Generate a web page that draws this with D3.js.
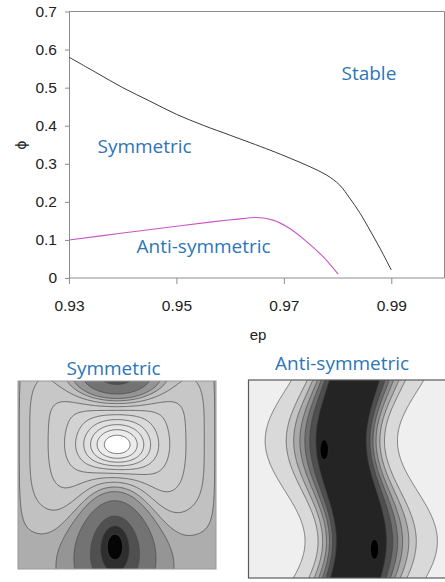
<!DOCTYPE html>
<html>
<head>
<meta charset="utf-8">
<script src="https://cdn.jsdelivr.net/npm/d3@7"></script>
<style>
  html, body { margin: 0; padding: 0; background: #fff; }
  svg { display: block; }
</style>
</head>
<body>
<svg id="fig" width="445" height="582"></svg>
<script>
// ---- stability boundaries (ep, phi) ----
const epSym   = [0.93, 0.935, 0.94, 0.945, 0.95, 0.955, 0.96, 0.9674, 0.9711, 0.9749, 0.978, 0.9804, 0.9823, 0.9842, 0.986, 0.9879, 0.99];
const phiSym  = [0.58, 0.54, 0.50, 0.465, 0.43, 0.401, 0.375, 0.336, 0.315, 0.292, 0.27, 0.244, 0.209, 0.17, 0.126, 0.078, 0.021];
const epAnti  = [0.93, 0.94, 0.95, 0.957, 0.961, 0.965, 0.968, 0.9711, 0.9743, 0.9773, 0.9801];
const phiAnti = [0.10, 0.118, 0.136, 0.148, 0.154, 0.159, 0.152, 0.13, 0.095, 0.056, 0.01];
const xTicks  = [0.93, 0.95, 0.97, 0.99];
const yTicks  = [0, 0.1, 0.2, 0.3, 0.4, 0.5, 0.6, 0.7];

// ---- symmetric mode pattern: lobes [cx, cy, sx, sy, amplitude, y-exponent] ----
const symLight = [
  [0.50, 0.30, 0.30, 0.40, 0.50, 4],
  [0.50, 0.35, 0.11, 0.085, 0.55, 2]
];
const symDark = [
  [0.49, 0.88, 0.12, 0.22, -1.21, 2],
  [0.49, 0.865, 0.04, 0.07, -0.60, 2],
  [0.50, -0.02, 0.14, 0.09, -1.30, 2]
];
const symDarkLevels = [-1.46, -1.08, -0.69, -0.26, -0.05];
const symDarkFills  = ["#2e2e2e", "#505050", "#737373", "#959595", "#adadad"];
const symLightLevels = [0.05, 0.156, 0.262, 0.368, 0.474, 0.58, 0.686, 0.792, 0.898];

// ---- anti-symmetric mode pattern: meandering band ----
const antiCentre = 0.52, antiBase = 0.021, antiGrow = 0.238, antiPhase = 0.06;
const antiSpots  = [[0.385, 0.354, 0.021, 0.05], [0.636, 0.85, 0.021, 0.05]];
const antiLevels = [-0.5, 0.125, 0.15, 0.17, 0.19, 0.215, 0.245, 0.33];
const antiFills  = ["#242424", "#4f4f4f", "#6f6f6f", "#8f8f8f", "#a9a9a9", "#c4c4c4", "#d9d9d9", "#efefef"];

const svg = d3.select("#fig");
const blue = "#2e75b6";

// ================= boundary chart =================
const x = d3.scaleLinear().domain([0.93, 1.0]).range([69, 445]);
const y = d3.scaleLinear().domain([0, 0.7]).range([278, 11.5]);

const chart = svg.append("g");

// frame (top and right)
chart.append("path")
  .attr("d", `M${x(0.93)},${y(0.7)}H444.5V${y(0)}`)
  .attr("fill", "none").attr("stroke", "#8c8c8c").attr("stroke-width", 1);

const xAxis = chart.append("g")
  .attr("transform", `translate(0,${y(0)})`)
  .call(d3.axisBottom(x).tickValues(xTicks).tickFormat(d3.format(".2f")).tickSize(6).tickSizeOuter(0).tickPadding(16));
xAxis.select(".domain").attr("d", `M${x(0.93)},0H444.5`);

chart.append("g")
  .attr("transform", `translate(${x(0.93)},0)`)
  .call(d3.axisLeft(y).tickValues(yTicks).tickFormat(d3.format("~g")).tickSize(4).tickSizeOuter(0).tickPadding(8));

chart.selectAll(".domain, .tick line").attr("stroke", "#8c8c8c");
chart.selectAll(".tick text")
  .attr("font-family", "'Liberation Sans', Arial, sans-serif")
  .attr("font-size", 15.5).attr("fill", "#222");

chart.append("text")
  .attr("x", 258).attr("y", 340).attr("text-anchor", "middle")
  .attr("font-family", "'Liberation Sans', Arial, sans-serif")
  .attr("font-size", 15).attr("fill", "#222").text("ep");

chart.append("text")
  .attr("transform", "translate(26,145) rotate(-90)").attr("text-anchor", "middle")
  .attr("font-family", "'DejaVu Sans', sans-serif")
  .attr("font-size", 14).attr("fill", "#222").text("ϕ");

const line = d3.line().x(d => x(d[0])).y(d => y(d[1])).curve(d3.curveCatmullRom.alpha(0.5));
chart.append("path")
  .attr("d", line(d3.zip(epSym, phiSym)))
  .attr("fill", "none").attr("stroke", "#3a3a3a").attr("stroke-width", 1);
chart.append("path")
  .attr("d", line(d3.zip(epAnti, phiAnti)))
  .attr("fill", "none").attr("stroke", "#c955c9").attr("stroke-width", 1.1);

const labelFont = "'Open Sans', sans-serif";
[["Stable", 341.5, 80], ["Symmetric", 97.5, 152.5], ["Anti-symmetric", 136.5, 252.5]].forEach(([t, lx, ly]) => {
  chart.append("text").attr("x", lx).attr("y", ly)
    .attr("font-family", labelFont).attr("font-size", 19).attr("fill", blue).text(t);
});

// ================= mode patterns =================
const N = 220;

function grid(f) {
  const v = new Array(N * N);
  for (let j = 0; j < N; j++)
    for (let i = 0; i < N; i++)
      v[j * N + i] = f((i + 0.5) / N, (j + 0.5) / N);
  return v;
}

function drawField(id, box, values, levels, fills, baseFill, stroke, strokeW) {
  const g = svg.append("g");
  g.append("clipPath").attr("id", id)
    .append("rect").attr("x", box.x0).attr("y", box.y0)
    .attr("width", box.x1 - box.x0).attr("height", box.y1 - box.y0);
  const inner = g.append("g").attr("clip-path", `url(#${id})`);
  const sx = d3.scaleLinear().domain([0, N]).range([box.x0 - 1.5, box.x1 + 1.5]);
  const sy = d3.scaleLinear().domain([0, N]).range([box.y0 - 1.5, box.y1 + 1.5]);
  const path = d3.geoPath(d3.geoTransform({
    point(px, py) { this.stream.point(sx(px), sy(py)); }
  }));
  inner.append("rect").attr("x", box.x0).attr("y", box.y0)
    .attr("width", box.x1 - box.x0).attr("height", box.y1 - box.y0)
    .attr("fill", baseFill);
  const bands = d3.contours().size([N, N]).thresholds(levels)(values);
  inner.selectAll("path").data(bands).join("path")
    .attr("d", path)
    .attr("fill", (d, i) => fills[i])
    .attr("stroke", stroke).attr("stroke-width", strokeW)
    .attr("stroke-linejoin", "round");
  return g;
}

// symmetric
const lobe = (p, px, py) => p[4] * Math.exp(-0.5 * ((px - p[0]) / p[2]) ** 2 - 0.5 * Math.abs((py - p[1]) / p[3]) ** p[5]);
const symValues = grid((px, py) => {
  const taper = (1 - Math.exp(-px / 0.03)) * (1 - Math.exp(-(1 - px) / 0.03));
  let v = 0;
  symLight.forEach(p => { v += taper * lobe(p, px, py); });
  symDark.forEach(p => { v += lobe(p, px, py); });
  return v;
});
const lightShade = d3.scaleLinear().domain([0.05, 0.792]).range(["#c1c1c1", "#ececec"]);
const symLevels = symDarkLevels.concat(symLightLevels);
const symFills = symDarkFills.concat(symLightLevels.map((t, i) => i === symLightLevels.length - 1 ? "#ffffff" : lightShade(t)));
const symBox = { x0: 18, x1: 216, y0: 381, y1: 569 };
drawField("clipSym", symBox, symValues, symLevels, symFills, "#050505", "#4a4a4a", 0.75);
svg.append("rect").attr("x", symBox.x0).attr("y", symBox.y0)
  .attr("width", symBox.x1 - symBox.x0).attr("height", symBox.y1 - symBox.y0)
  .attr("fill", "none").attr("stroke", "#9a9a9a").attr("stroke-width", 1);

// anti-symmetric
const antiValues = grid((px, py) => {
  const s = Math.sin(2 * Math.PI * (py - antiPhase));
  const num = px - antiCentre + s * antiBase;
  const u = num >= 0 ? num / (1 - s * antiGrow) : -num / (1 + s * antiGrow);
  let v = u;
  antiSpots.forEach(([cx, cy, rx, ry]) => {
    const r2 = ((px - cx) / rx) ** 2 + ((py - cy) / ry) ** 2;
    v -= 1.5 * Math.exp(-r2 * r2);
  });
  return v;
});
const antiBox = { x0: 248.5, x1: 446, y0: 380, y1: 578 };
drawField("clipAnti", antiBox, antiValues, antiLevels, antiFills, "#000", "#3c3c3c", 0.6);
svg.append("rect").attr("x", antiBox.x0).attr("y", antiBox.y0)
  .attr("width", antiBox.x1 - antiBox.x0).attr("height", antiBox.y1 - antiBox.y0)
  .attr("fill", "none").attr("stroke", "#5a5a5a").attr("stroke-width", 1.2);

svg.append("text").attr("x", 66.5).attr("y", 375)
  .attr("font-family", labelFont).attr("font-size", 19).attr("fill", blue).text("Symmetric");
svg.append("text").attr("x", 275).attr("y", 370)
  .attr("font-family", labelFont).attr("font-size", 19).attr("fill", blue).text("Anti-symmetric");
</script>
</body>
</html>
